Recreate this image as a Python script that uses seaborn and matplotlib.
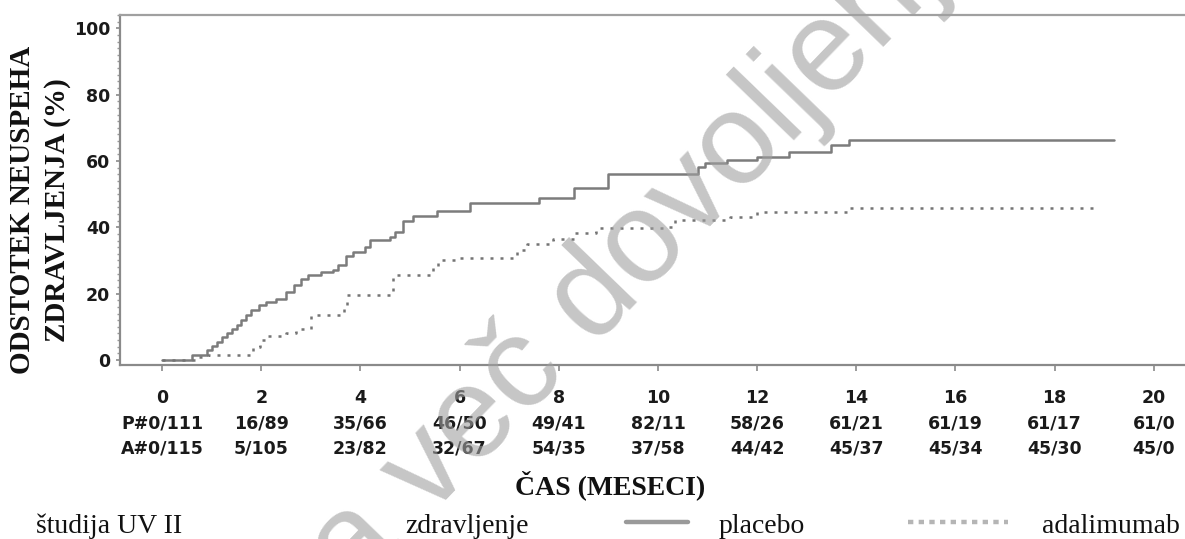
import numpy as np
import pandas as pd
import matplotlib
matplotlib.use("Agg")
import matplotlib.pyplot as plt
import seaborn as sns
from matplotlib.lines import Line2D
from matplotlib.ticker import MultipleLocator

# ---------------- data ----------------
tick_months = [0, 2, 4, 6, 8, 10, 12, 14, 16, 18, 20]
placebo_counts = ["P#0/111", "16/89", "35/66", "46/50", "49/41", "82/11",
                  "58/26", "61/21", "61/19", "61/17", "61/0"]
adalimumab_counts = ["A#0/115", "5/105", "23/82", "32/67", "54/35", "37/58",
                     "44/42", "45/37", "45/34", "45/30", "45/0"]

placebo_t = [0, 0.6, 0.9, 1.0, 1.1, 1.2, 1.3, 1.4, 1.5, 1.6, 1.7, 1.8, 1.95,
             2.1, 2.3, 2.5, 2.65, 2.8, 2.95, 3.2, 3.45, 3.55, 3.7, 3.85, 4.1,
             4.2, 4.6, 4.7, 4.85, 5.05, 5.55, 6.2, 7.6, 8.3, 9.0, 10.8, 10.95,
             11.4, 12.0, 12.65, 13.5, 13.85, 19.2]
placebo_pct = [0, 1.5, 3, 4.3, 5.5, 6.8, 8, 9.3, 10.5, 12, 13.5, 15, 16.5,
               17.5, 18.5, 20.5, 22.5, 24.5, 25.5, 26.5, 27.2, 28.5, 31.5, 32.5, 34,
               36.3, 37, 38.5, 42, 43.3, 45, 47.3, 48.8, 52, 56, 58.3, 59.3,
               60.3, 61.3, 62.8, 64.8, 66.4, 66.4]

adalimumab_t = [0, 0.7, 0.92, 1.84, 1.98, 2.1, 2.5, 2.7, 3.0, 3.66, 3.72,
                4.66, 5.47, 5.57, 5.94, 7.15, 7.35, 7.89, 8.33, 8.76, 10.14,
                10.34, 11.45, 11.99, 13.84, 18.87]
adalimumab_pct = [0, 0.8, 1.4, 4.0, 6.0, 7.3, 8.0, 9.5, 13.5, 16.0, 19.6,
                  25.5, 28.0, 30.0, 30.8, 33.2, 35.0, 36.6, 38.2, 39.7, 40.2,
                  42.2, 43.2, 44.7, 45.9, 45.9]

groups = ["placebo", "adalimumab"]

df = pd.concat([
    pd.DataFrame({"mesec": placebo_t, "odstotek": placebo_pct, "skupina": groups[0]}),
    pd.DataFrame({"mesec": adalimumab_t, "odstotek": adalimumab_pct, "skupina": groups[1]}),
], ignore_index=True)

# ---------------- figure ----------------
sns.set_theme(style="white")
W, H = 1185, 539
fig = plt.figure(figsize=(W / 100, H / 100), dpi=100)
fig.patch.set_facecolor("white")

def fx(px):
    return px / W

def fy(py):
    return 1 - py / H

ax_l, ax_r, ax_t, ax_b = 120, 1185, 15, 365
ax = fig.add_axes([fx(ax_l), fy(ax_b), fx(ax_r - ax_l), (ax_b - ax_t) / H])
ax.set_facecolor("white")

line_col = {"placebo": "#7c7c7c", "adalimumab": "#747474"}
sns.lineplot(data=df, x="mesec", y="odstotek", hue="skupina", style="skupina",
             palette=line_col, dashes={"placebo": "", "adalimumab": (1.2, 2.8)},
             drawstyle="steps-post", estimator=None, sort=False,
             linewidth=1.8, legend=False, ax=ax)

ax.set_xlim(-0.85, 20.63)
ax.set_ylim(-1.5, 104)

ax.set_xticks(tick_months)
ax.set_xticklabels([f"{m}\n{p}\n{a}" for m, p, a in zip(tick_months, placebo_counts, adalimumab_counts)],
                   fontfamily="DejaVu Sans", fontweight="bold", fontsize=12.5,
                   linespacing=1.5, color="#1a1a1a")
ax.set_yticks([0, 20, 40, 60, 80, 100])
ax.set_yticklabels(["0", "20", "40", "60", "80", "100"],
                   fontfamily="DejaVu Sans", fontweight="bold", fontsize=12.5,
                   color="#1a1a1a")
ax.yaxis.set_minor_locator(MultipleLocator(2))

ax.tick_params(axis="x", which="major", direction="out", length=4, width=1.2,
               color="#8a8a8a", pad=13.5, bottom=True)
ax.tick_params(axis="y", which="major", direction="out", length=3, width=1.2,
               color="#8a8a8a", pad=4, left=True)
ax.tick_params(axis="y", which="minor", direction="out", length=2, width=1.0,
               color="#9a9a9a", left=True)

for side in ["left", "bottom", "top"]:
    ax.spines[side].set_visible(True)
    ax.spines[side].set_color("#8a8a8a")
    ax.spines[side].set_linewidth(1.6)
ax.spines["top"].set_color("#a0a0a0")
ax.spines["right"].set_visible(False)

ax.set_ylabel("ODSTOTEK NEUSPEHA\nZDRAVLJENJA (%)", fontfamily="Liberation Serif",
              fontweight="bold", fontsize=21, linespacing=1.4, color="#111111",
              ha="center", va="center", multialignment="center")
ax.yaxis.set_label_coords((40 - ax_l) / (ax_r - ax_l), (ax_b - 210) / (ax_b - ax_t))
ax.set_xlabel("ČAS (MESECI)", fontfamily="Liberation Serif", fontweight="bold",
              fontsize=20, color="#111111", va="center")
ax.xaxis.set_label_coords((610 - ax_l) / (ax_r - ax_l), (ax_b - 485) / (ax_b - ax_t))

# ---------------- bottom legend row ----------------
serif = dict(fontfamily="Liberation Serif", fontsize=20, color="#111111", va="baseline")
fig.text(fx(36), fy(533), "študija UV II", ha="left", **serif)
fig.text(fx(405), fy(533), "zdravljenje", ha="left", **serif)
fig.add_artist(Line2D([fx(626), fx(688)], [fy(521.5), fy(521.5)],
                      color="#9a9a9a", linewidth=3.2, transform=fig.transFigure))
fig.text(fx(719), fy(533), groups[0], ha="left", **serif)
fig.add_artist(Line2D([fx(908), fx(1008)], [fy(521.5), fy(521.5)],
                      color="#b5b5b5", linewidth=3.2, dashes=(1.2, 1.2),
                      transform=fig.transFigure))
fig.text(fx(1042), fy(533), groups[1], ha="left", **serif)

# ---------------- watermark ----------------
fig.text(fx(619), fy(272), "Zdravilo nima več dovoljenja za promet",
         fontfamily="Liberation Sans", fontsize=93, color="#a0a0a0", alpha=0.6,
         rotation=46, rotation_mode="anchor", ha="center", va="center", zorder=10)

fig.savefig("out.png", dpi=100, facecolor="white")
